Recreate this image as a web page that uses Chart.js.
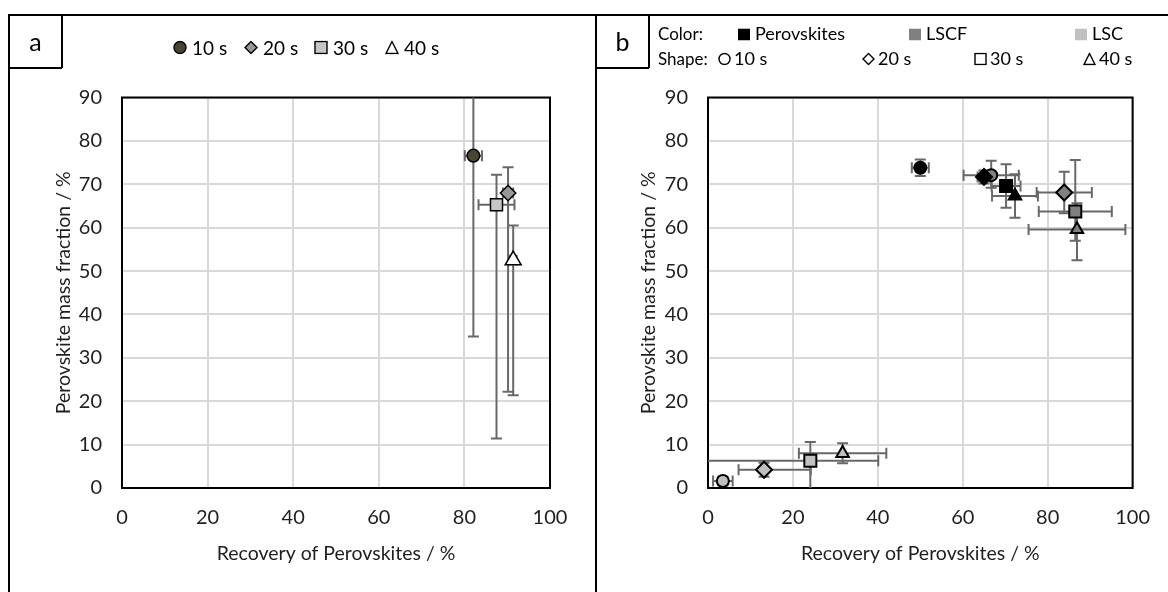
<!DOCTYPE html>
<html>
<head>
<meta charset="utf-8">
<script src="https://cdn.jsdelivr.net/npm/chart.js@4.4.1/dist/chart.umd.min.js"></script>
<style>
  body { margin: 0; background: #fff; }
  #page { position: relative; width: 1168px; height: 592px; overflow: hidden; font-family: Lato, sans-serif; color: #000; }
  .ln { position: absolute; background: #000; }
  canvas { position: absolute; top: 0; }
  .tag { position: absolute; width: 53px; top: 15px; height: 53px; line-height: 53px; text-align: center; font-size: 25px; }
  .leg { position: absolute; font-size: 19px; white-space: nowrap; transform: translateY(-50%); }
  .legb { font-size: 18px; }
  .head { font-size: 17px; }
  .mk { position: absolute; transform: translateY(-50%); }
</style>
</head>
<body>
<div id="page">
  <canvas id="chartA" width="596" height="592" style="left:0"></canvas>
  <canvas id="chartB" width="572" height="592" style="left:596px"></canvas>

  <div class="ln" style="left:9px;top:14px;width:1159px;height:2px"></div>
  <div class="ln" style="left:8px;top:14px;width:2px;height:578px"></div>
  <div class="ln" style="left:595px;top:14px;width:2px;height:578px"></div>
  <div class="ln" style="left:61px;top:15px;width:1.5px;height:53px"></div>
  <div class="ln" style="left:9px;top:67px;width:53px;height:1.5px"></div>
  <div class="ln" style="left:648px;top:15px;width:1.5px;height:53px"></div>
  <div class="ln" style="left:596px;top:67px;width:53px;height:1.5px"></div>
  <div class="tag" style="left:9px">a</div>
  <div class="tag" style="left:596px">b</div>
  <div id="legends"></div>
</div>
<script>
// panel a: one series per separation time
const timeLabels = ['10 s', '20 s', '30 s', '40 s'];
const aRecovery = [82.1, 90.2, 87.5, 91.4];
const aRecoveryErr = [2.0, 1.2, 4.2, 0.8];
const aFraction = [76.6, 68.0, 65.3, 52.5];
const aFractionErrUp = [42.0, 5.9, 6.9, 8.0];
const aFractionErrDown = [41.7, 45.8, 53.9, 31.1];
const aColors = ['#4b4634', '#979797', '#c6c6c6', '#ffffff'];

// panel b: one series per material, shape = time
const materials = ['Perovskites', 'LSCF', 'LSC'];
const bColors = ['#000000', '#808080', '#c0c0c0'];
const bRecovery = [[50.0, 65.0, 70.2, 72.3], [66.7, 83.9, 86.5, 86.9], [3.5, 13.2, 24.1, 31.7]];
const bRecoveryErrLow = [[2.0, 1.5, 3.4, 5.4], [6.5, 6.5, 8.6, 11.4], [2.3, 6.0, 25.0, 10.3]];
const bRecoveryErrHigh = [[2.0, 1.5, 3.4, 5.4], [6.5, 6.5, 8.6, 11.4], [2.3, 11.0, 16.0, 10.3]];
const bFraction = [[73.8, 71.7, 69.6, 67.3], [72.1, 68.1, 63.7, 59.6], [1.6, 4.2, 6.3, 8.0]];
const bFractionErrLow = [[1.9, 1.5, 5.0, 5.0], [2.9, 4.8, 6.7, 7.1], [1.0, 1.6, 7.0, 2.3]];
const bFractionErrHigh = [[1.9, 1.5, 5.0, 5.0], [3.3, 4.8, 11.9, 6.0], [1.0, 1.6, 4.3, 2.3]];

const xTicks = [0, 20, 40, 60, 80, 100];
const yTicks = [0, 10, 20, 30, 40, 50, 60, 70, 80, 90];
const xTitle = 'Recovery of Perovskites / %';
const yTitle = 'Perovskite mass fraction / %';

const shapes = ['circle', 'rectRot', 'rect', 'triangle'];

const frameAndErrors = {
    id: 'frameAndErrors',
    beforeDatasetsDraw(chart) {
        const {ctx, chartArea: a, scales: {x, y}} = chart;
        ctx.save();
        ctx.strokeStyle = '#000';
        ctx.lineWidth = 2;
        ctx.strokeRect(a.left, a.top, a.right - a.left, a.bottom - a.top);
        ctx.beginPath();
        ctx.rect(a.left, a.top, a.right - a.left, a.bottom - a.top);
        ctx.clip();
        ctx.strokeStyle = '#686868';
        ctx.lineWidth = 2;
        const cap = 5.5;
        chart.data.datasets.forEach(ds => {
            ds.data.forEach(p => {
                const px = x.getPixelForValue(p.x);
                const py = y.getPixelForValue(p.y);
                const x1 = x.getPixelForValue(p.x - p.xm);
                const x2 = x.getPixelForValue(p.x + p.xp);
                const y1 = y.getPixelForValue(p.y - p.ym);
                const y2 = y.getPixelForValue(p.y + p.yp);
                ctx.beginPath();
                ctx.moveTo(x1, py); ctx.lineTo(x2, py);
                ctx.moveTo(x1, py - cap); ctx.lineTo(x1, py + cap);
                ctx.moveTo(x2, py - cap); ctx.lineTo(x2, py + cap);
                ctx.moveTo(px, y1); ctx.lineTo(px, y2);
                ctx.moveTo(px - cap, y1); ctx.lineTo(px + cap, y1);
                ctx.moveTo(px - cap, y2); ctx.lineTo(px + cap, y2);
                ctx.stroke();
            });
        });
        ctx.restore();
    }
};

function scaleOptions(yAxisWidth, yTitlePad) {
    const tickFont = {family: 'Lato', size: 20};
    const titleFont = {family: 'Lato', size: 19.5};
    return {
        x: {
            type: 'linear', min: 0, max: 100,
            afterBuildTicks: s => { s.ticks = xTicks.map(v => ({value: v})); },
            afterFit: s => { s.height = 104; },
            grid: {color: '#d9d9d9', lineWidth: 2, drawTicks: false},
            border: {display: false},
            ticks: {padding: 18, color: '#1f1f1f', font: tickFont},
            title: {display: true, text: xTitle, color: '#1f1f1f', font: titleFont, padding: {top: 0, bottom: 27}}
        },
        y: {
            type: 'linear', min: 0, max: 90,
            afterBuildTicks: s => { s.ticks = yTicks.map(v => ({value: v})); },
            afterFit: s => { s.width = yAxisWidth; },
            grid: {color: '#d9d9d9', lineWidth: 2, drawTicks: false},
            border: {display: false},
            ticks: {padding: 20, color: '#1f1f1f', font: tickFont},
            title: {display: true, text: yTitle, color: '#1f1f1f', font: titleFont, padding: {top: yTitlePad, bottom: 0}}
        }
    };
}

const commonPlugins = {legend: {display: false}, tooltip: {enabled: false}};

const aDatasets = timeLabels.map((label, i) => ({
    label,
    data: [{x: aRecovery[i], y: aFraction[i], xm: aRecoveryErr[i], xp: aRecoveryErr[i], ym: aFractionErrDown[i], yp: aFractionErrUp[i]}],
    pointStyle: shapes[i],
    pointRadius: [6.3, 7.7, 8.5, 9.2][i],
    pointBackgroundColor: aColors[i],
    pointBorderColor: '#000',
    pointBorderWidth: 1.5,
    showLine: false
}));

new Chart(document.getElementById('chartA'), {
    type: 'scatter',
    data: {datasets: aDatasets},
    options: {
        responsive: false, animation: false, devicePixelRatio: 1,
        layout: {padding: {top: 97.5, right: 46, left: 0, bottom: 0}},
        scales: scaleOptions(122, 52),
        plugins: commonPlugins
    },
    plugins: [frameAndErrors]
});

const bDatasets = materials.map((label, m) => ({
    label,
    data: bRecovery[m].map((v, i) => ({
        x: v, y: bFraction[m][i],
        xm: bRecoveryErrLow[m][i], xp: bRecoveryErrHigh[m][i],
        ym: bFractionErrLow[m][i], yp: bFractionErrHigh[m][i]
    })),
    pointStyle: shapes,
    pointRadius: [6, 8, 8.5, 7.2],
    pointBackgroundColor: bColors[m],
    pointBorderColor: '#000',
    pointBorderWidth: 2,
    showLine: false
}));

new Chart(document.getElementById('chartB'), {
    type: 'scatter',
    data: {datasets: bDatasets},
    options: {
        responsive: false, animation: false, devicePixelRatio: 1,
        layout: {padding: {top: 97.5, right: 32, left: 0, bottom: 0}},
        scales: scaleOptions(112, 41),
        plugins: commonPlugins
    },
    plugins: [frameAndErrors]
});

// legends (HTML text + small svg markers)
function marker(shape, fill, size) {
    const s = size, h = s / 2;
    let body;
    if (shape === 'circle') body = `<circle cx="${h}" cy="${h}" r="${h - 1}"/>`;
    else if (shape === 'rectRot') body = `<polygon points="${h},1 ${s - 1},${h} ${h},${s - 1} 1,${h}"/>`;
    else if (shape === 'rect') body = `<rect x="1" y="1" width="${s - 2}" height="${s - 2}"/>`;
    else body = `<polygon points="${h},1 ${s - 1},${s - 1} 1,${s - 1}"/>`;
    return `<svg width="${s}" height="${s}" fill="${fill}" stroke="#000" stroke-width="1.4">${body}</svg>`;
}
function swatch(color) {
    return `<svg width="12" height="12"><rect width="12" height="12" fill="${color}"/></svg>`;
}

const legends = document.getElementById('legends');
function put(html, left, top, cls) {
    const d = document.createElement('div');
    d.className = cls;
    d.style.left = left + 'px';
    d.style.top = top + 'px';
    d.innerHTML = html;
    legends.appendChild(d);
}

const aLegendLeft = [192, 263, 333, 404];
const aLegendY = 47;
timeLabels.forEach((t, i) => {
    put(marker(shapes[i], aColors[i], 14), aLegendLeft[i] - 19, aLegendY + 1, 'mk');
    put(t, aLegendLeft[i], aLegendY, 'leg');
});

const bColorLeft = [755, 926, 1092];
const bShapeLeft = [734, 878, 990, 1099];
const bRow1 = 33, bRow2 = 58;
put('Color:', 658, bRow1, 'leg legb head');
materials.forEach((t, i) => {
    put(swatch(bColors[i]), bColorLeft[i] - 17, bRow1 + 1, 'mk');
    put(t, bColorLeft[i], bRow1, 'leg legb');
});
put('Shape:', 658, bRow2, 'leg legb head');
timeLabels.forEach((t, i) => {
    put(marker(shapes[i], '#fff', 13), bShapeLeft[i] - 16, bRow2 + 1, 'mk');
    put(t, bShapeLeft[i], bRow2, 'leg legb');
});
</script>
</body>
</html>
